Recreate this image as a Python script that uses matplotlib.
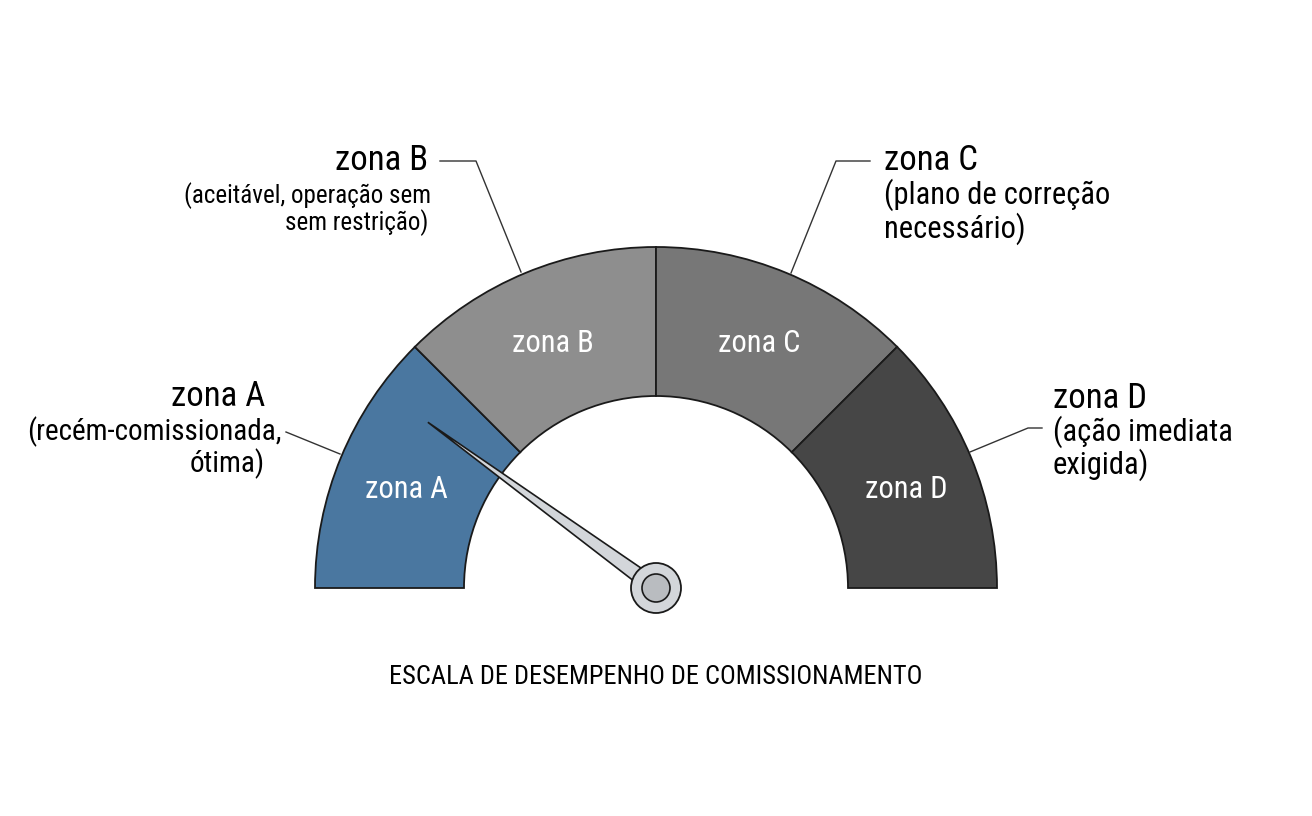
import numpy as np
import matplotlib.pyplot as plt
from matplotlib.patches import Wedge, Polygon, Circle
from matplotlib import font_manager

# Data
zones = ['zona A', 'zona B', 'zona C', 'zona D']
zone_edges = [0, 25, 50, 75, 100]
zone_colors = ['#4a77a0', '#8e8e8e', '#777777', '#464646']
zone_notes = [['(recém-comissionada,', 'ótima)'],
              ['(aceitável, operação sem', 'sem restrição)'],
              ['(plano de correção', 'necessário)'],
              ['(ação imediata', 'exigida)']]
needle_value = 20
title = 'ESCALA DE DESEMPENHO DE COMISSIONAMENTO'

# pick a narrow font if one is there
names = {f.name for f in font_manager.fontManager.ttflist}
font = 'Roboto'
for cand in ['Roboto Condensed', 'Liberation Sans Narrow', 'Roboto']:
    if cand in names:
        font = cand
        break
plt.rcParams['font.family'] = [font, 'DejaVu Sans']

W, H = 1312, 816
fig = plt.figure(figsize=(W / 100, H / 100), dpi=100)
ax = fig.add_axes([0, 0, 1, 1])
ax.set_xlim(0, W)
ax.set_ylim(0, H)
ax.set_aspect('equal')
ax.axis('off')

cx, cy = 656, H - 588
r_out, r_in = 341, 192


def val2ang(v):
    return 180 - v / 100 * 180


def polar(r, ang):
    a = np.radians(ang)
    return cx + r * np.cos(a), cy + r * np.sin(a)


for i, z in enumerate(zones):
    a1 = val2ang(zone_edges[i + 1])
    a0 = val2ang(zone_edges[i])
    w = Wedge((cx, cy), r_out, a1, a0, width=r_out - r_in,
              facecolor=zone_colors[i], edgecolor='#1a1a1a', lw=1.3)
    ax.add_patch(w)
    mid = (a0 + a1) / 2
    tx, ty = polar((r_out + r_in) / 2 + 4, mid)
    ax.text(tx, ty - 5, z, color='white', fontsize=22, ha='center', va='center')

# needle
na = val2ang(needle_value)
tip = polar(282, na)
perp = np.radians(na + 90)
hw = 8
p1 = (cx + hw * np.cos(perp), cy + hw * np.sin(perp))
p2 = (cx - hw * np.cos(perp), cy - hw * np.sin(perp))
ax.add_patch(Polygon([tip, p1, p2], closed=True, facecolor='#d3d6da',
                     edgecolor='#1a1a1a', lw=1.2, zorder=5))
ax.add_patch(Circle((cx, cy), 25, facecolor='#d3d6da', edgecolor='#1a1a1a',
                    lw=1.3, zorder=6))
ax.add_patch(Circle((cx, cy), 14, facecolor='#b9bcc0', edgecolor='#1a1a1a',
                    lw=1.2, zorder=7))

# callouts
lc = '#333333'
# zona A
ax.plot([286, 340], [H - 432, H - 454], color=lc, lw=1)
ax.text(265, H - 396, zones[0], fontsize=25, ha='right', va='center')
ax.text(282, H - 432, zone_notes[0][0], fontsize=21, ha='right', va='center')
ax.text(265, H - 464, zone_notes[0][1], fontsize=21, ha='right', va='center')
# zona B
ax.plot([440, 476, 521], [H - 161, H - 161, H - 272], color=lc, lw=1)
ax.text(428, H - 161, zones[1], fontsize=25, ha='right', va='center')
ax.text(431, H - 196, zone_notes[1][0], fontsize=18, ha='right', va='center')
ax.text(428, H - 223, zone_notes[1][1], fontsize=18, ha='right', va='center')
# zona C
ax.plot([870, 836, 791], [H - 161, H - 161, H - 273], color=lc, lw=1)
ax.text(884, H - 161, zones[2], fontsize=25, ha='left', va='center')
ax.text(884, H - 195, zone_notes[2][0], fontsize=22, ha='left', va='center')
ax.text(884, H - 229, zone_notes[2][1], fontsize=22, ha='left', va='center')
# zona D
ax.plot([1042, 1028, 970], [H - 428, H - 428, H - 452], color=lc, lw=1)
ax.text(1053, H - 398, zones[3], fontsize=25, ha='left', va='center')
ax.text(1053, H - 432, zone_notes[3][0], fontsize=22, ha='left', va='center')
ax.text(1053, H - 465, zone_notes[3][1], fontsize=22, ha='left', va='center')

ax.text(656, H - 677, title, fontsize=19, ha='center', va='center')

fig.savefig('out.png', dpi=100, facecolor='white')
